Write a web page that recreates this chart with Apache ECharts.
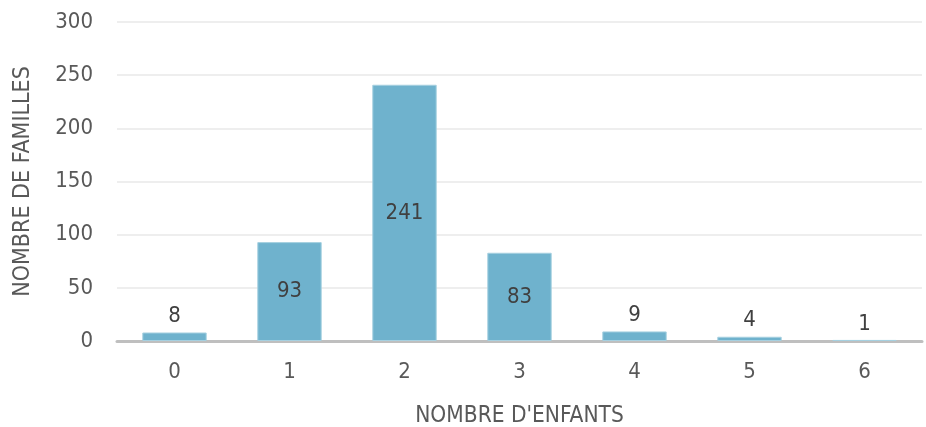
<!DOCTYPE html>
<html>
<head>
<meta charset="utf-8">
<script src="https://cdn.jsdelivr.net/npm/echarts@6/dist/echarts.min.js"></script>
<style>
  html, body { margin: 0; padding: 0; background: #fff; }
  #chart { width: 926px; height: 427px; }
</style>
</head>
<body>
<div id="chart"></div>
<script>
// nombre d'enfants par famille
const enfants = ['0', '1', '2', '3', '4', '5', '6'];
const familles = [8, 93, 241, 83, 9, 4, 1];
const labelDedans = [false, true, true, true, false, false, false];
const yTicks = { min: 0, max: 300, interval: 50 };

const police = 'DejaVu Sans Condensed';
const gris = '#595959';

let chart = echarts.init(document.getElementById('chart'));

let donnees = familles.map(function (v, i) {
  return {
    value: v,
    label: { position: labelDedans[i] ? 'inside' : 'top', distance: 5 }
  };
});

let option = {
  animation: false,
  grid: { left: 117, right: 4, top: 22, bottom: 86, outerBoundsMode: 'none', containLabel: false },
  xAxis: {
    type: 'category',
    data: enfants,
    name: "NOMBRE D'ENFANTS",
    nameLocation: 'middle',
    nameGap: 64,
    nameTextStyle: { fontFamily: police, fontSize: 22.5, color: gris },
    axisLine: { lineStyle: { color: '#bfbfbf', width: 3 } },
    axisTick: { show: false },
    axisLabel: { fontFamily: police, fontSize: 22, color: gris, margin: 20 }
  },
  yAxis: {
    type: 'value',
    min: yTicks.min,
    max: yTicks.max,
    interval: yTicks.interval,
    name: 'NOMBRE DE FAMILLES',
    nameLocation: 'middle',
    nameGap: 82,
    nameTextStyle: { fontFamily: police, fontSize: 23, color: gris },
    axisLine: { show: false },
    axisTick: { show: false },
    axisLabel: { fontFamily: police, fontSize: 22, color: gris, margin: 24 },
    splitLine: { lineStyle: { color: '#eeeeee', width: 2 } }
  },
  series: [
    {
      type: 'bar',
      data: donnees,
      barWidth: '56%',
      itemStyle: { color: '#6fb2cd', borderColor: '#a6d0e0', borderWidth: 1 },
      label: {
        show: true,
        fontFamily: police,
        fontSize: 22,
        color: '#404040'
      }
    }
  ]
};

chart.setOption(option);
</script>
</body>
</html>
